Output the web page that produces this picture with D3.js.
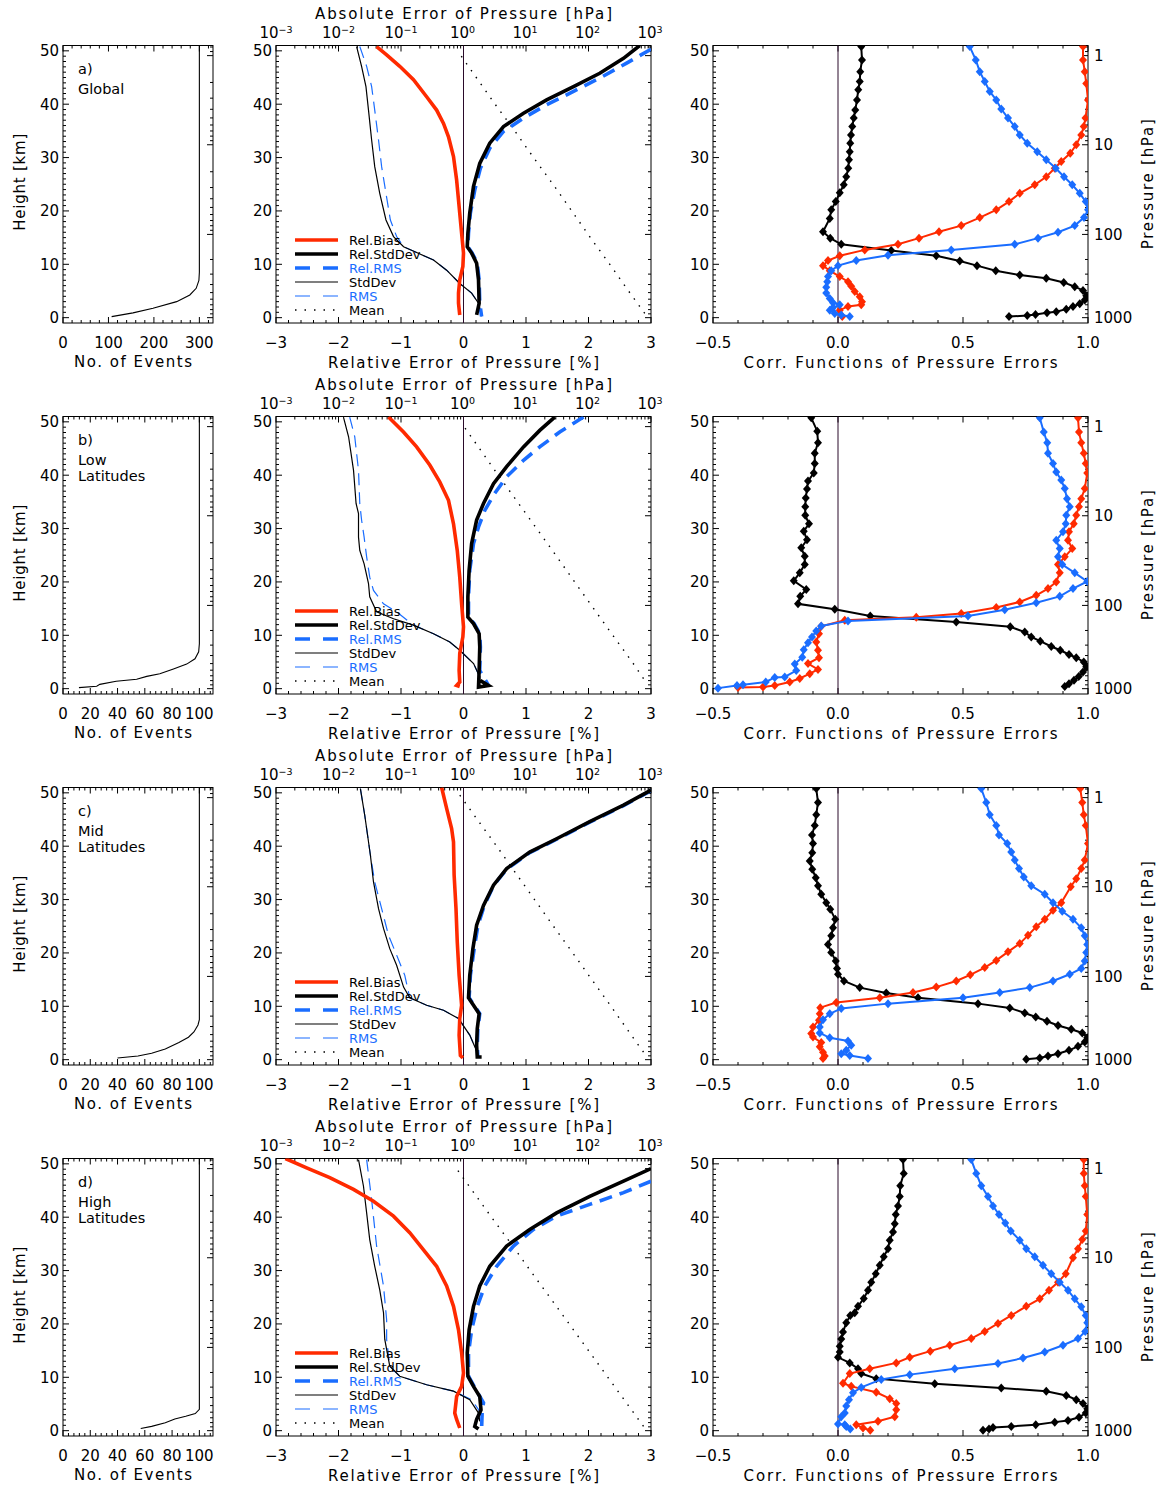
<!DOCTYPE html>
<html>
<head>
<meta charset="utf-8">
<script src="https://cdn.jsdelivr.net/npm/d3@7"></script>
<style>
  body { margin: 0; background: #fff; }
  svg text { font-family: "DejaVu Sans", sans-serif; fill: #000; }
  .frame { fill: none; stroke: #000; stroke-width: 1; }
  .tick line { stroke: #000; stroke-width: 1; }
</style>
</head>
<body>
<svg id="chart" width="1163" height="1485"></svg>
<script>
// ---- panel names and number of events axis ----
const panelNames = [["a)", "Global"], ["b)", "Low", "Latitudes"], ["c)", "Mid", "Latitudes"], ["d)", "High", "Latitudes"]];
const evMax = [330, 110, 110, 110];
const evMajor = [[0, 100, 200, 300], [0, 20, 40, 60, 80, 100], [0, 20, 40, 60, 80, 100], [0, 20, 40, 60, 80, 100]];
const evMinorStep = [20, 4, 4, 4];

// ---- column 1: number of events [count, km] ----
const eventsA = [[107,0.2],[154,0.9],[198,1.75],[250,3.0],[279,4.25],[293,5.5],[299,7.0],[300,8.5],[300,51]];
const eventsB = [[11.7,0.2],[24.7,0.45],[27,0.8],[39,1.4],[54,1.75],[61.4,2.3],[71,2.8],[81,3.7],[90.7,4.6],[96.8,5.6],[99.5,6.9],[100,8.4],[100,51]];
const eventsC = [[40,0.3],[55,0.7],[65,1.2],[75,2.0],[85,3.2],[92,4.2],[96,5.2],[99,6.5],[100,7.5],[100,51]];
const eventsD = [[57,0.4],[65,0.8],[75,1.5],[82,2.2],[90,2.7],[97,3.2],[100,4.0],[100,51]];

// ---- column 2: relative errors [% , km] ----
const relBiasA = [[-1.39,50.8],[-1.23,49.25],[-1.02,47.1],[-0.80,44.6],[-0.59,41.4],[-0.43,38.9],[-0.32,36.4],[-0.24,33.9],[-0.16,30.2],[-0.11,25.8],[-0.07,20.8],[-0.03,15.8],[0.0,12.1],[-0.01,9.6],[-0.06,7.1],[-0.08,4.6],[-0.08,2.7],[-0.06,0.5]];
const relStdA = [[2.82,51],[2.56,48.6],[2.18,45.8],[1.76,43.3],[1.33,40.8],[0.96,38.3],[0.64,35.8],[0.42,32.7],[0.26,28.9],[0.16,24.6],[0.10,19.6],[0.07,15.8],[0.06,13.3],[0.13,12.1],[0.21,10.2],[0.24,7.1],[0.25,2.7],[0.21,0.5]];
const relRmsA = [[3.0,50.3],[2.61,47.7],[2.18,44.9],[1.76,42.4],[1.33,39.9],[0.96,37.4],[0.64,34.9],[0.42,31.75],[0.27,28],[0.18,23.9],[0.11,19.6],[0.08,15.8],[0.07,13.3],[0.14,12.1],[0.22,10.2],[0.25,7.1],[0.26,2.7],[0.29,0.2]];
const relBiasB = [[-1.20,50.9],[-0.96,48.1],[-0.75,45.3],[-0.54,41.9],[-0.38,38.75],[-0.24,35.3],[-0.16,30.9],[-0.10,25.9],[-0.06,20.9],[-0.03,15.9],[0.0,11.6],[-0.01,9.7],[-0.06,6.6],[-0.07,3.4],[-0.06,1.25],[-0.11,0.6],[-0.06,0.4]];
const relStdB = [[1.46,50.9],[1.22,48.4],[0.96,45.3],[0.69,41.6],[0.48,38.4],[0.32,34.7],[0.21,31.6],[0.13,27.2],[0.09,22.2],[0.07,17.2],[0.07,13.4],[0.16,12.2],[0.25,10.3],[0.26,7.8],[0.25,3.4],[0.24,0.3],[0.40,0.6],[0.27,1.5]];
const relRmsB = [[1.92,50.9],[1.54,48.1],[1.22,45.3],[0.96,42.8],[0.69,39.7],[0.50,36.6],[0.34,33.4],[0.24,30.3],[0.16,27.2],[0.10,22.2],[0.08,17.2],[0.08,13.4],[0.17,12.2],[0.26,10.3],[0.27,7.8],[0.26,3.4],[0.40,0.6]];
const relBiasC = [[-0.35,51],[-0.27,47.1],[-0.19,43.3],[-0.16,40.8],[-0.15,34.6],[-0.12,28.3],[-0.10,22.1],[-0.07,15.8],[-0.03,10.2],[-0.06,7.7],[-0.07,4.6],[-0.05,0.8],[-0.01,0.3]];
const relStdC = [[3.0,50.5],[2.56,47.7],[2.02,44.6],[1.49,41.4],[1.06,38.9],[0.69,35.8],[0.48,32.7],[0.32,28.9],[0.21,25.2],[0.15,20.8],[0.10,15.8],[0.08,11.6],[0.16,10.2],[0.25,8.6],[0.22,5.8],[0.21,2.7],[0.22,0.5],[0.29,0.5]];
const relRmsC = [[3.0,50.4],[2.56,47.6],[2.02,44.5],[1.49,41.3],[1.06,38.8],[0.69,35.7],[0.48,32.6],[0.33,28.8],[0.23,25.1],[0.17,20.7],[0.11,15.8],[0.09,11.6],[0.17,10.2],[0.26,8.6],[0.23,5.8],[0.22,2.7],[0.23,0.5]];
const relBiasD = [[-2.85,51],[-2.51,49.25],[-2.14,47.4],[-1.76,45.2],[-1.44,43],[-1.12,40.2],[-0.86,37.1],[-0.64,33.9],[-0.43,30.8],[-0.27,27.1],[-0.16,23.3],[-0.08,18.9],[-0.03,14.6],[0.0,10.8],[-0.03,8.3],[-0.11,6.4],[-0.14,3.3],[-0.11,2.1],[-0.06,0.5]];
const relStdD = [[3.0,49.1],[2.56,46.75],[2.02,43.9],[1.49,40.8],[1.06,37.7],[0.69,34.6],[0.42,30.8],[0.26,27.1],[0.16,23.3],[0.09,18.9],[0.06,14.6],[0.07,10.2],[0.16,8.3],[0.26,6.4],[0.28,3.9],[0.21,2.1],[0.18,0.8],[0.24,0.3]];
const relRmsD = [[3.0,46.75],[2.56,44.6],[2.02,42.4],[1.49,40.2],[1.12,37.7],[0.80,34.6],[0.53,30.8],[0.34,27.1],[0.22,23.3],[0.13,18.9],[0.08,14.6],[0.08,10.2],[0.17,8.3],[0.32,5.2],[0.30,3.9],[0.29,0.5]];

// ---- column 2: absolute errors and mean pressure [hPa, km] (top log axis) ----
const stdA = [[0.0195,50.8],[0.0234,47.1],[0.0275,43.3],[0.0302,38.9],[0.0339,33.3],[0.038,28.3],[0.0457,23.3],[0.0575,18.3],[0.0759,15.2],[0.11,13.3],[0.178,12.2],[0.331,10.8],[0.537,8.9],[0.871,6.4],[1.35,4.6],[1.74,2.7],[1.95,0.3]];
const rmsA = [[0.0219,50.8],[0.0282,47.1],[0.0339,43.3],[0.038,38.9],[0.0437,33.3],[0.049,28.3],[0.0575,23.3],[0.0676,18.3],[0.0851,15.2],[0.11,13.3],[0.178,12.2],[0.331,10.8],[0.537,8.9],[0.871,6.4],[1.35,4.6],[1.74,2.7],[1.95,0.3]];
const meanA = [[794,0.8],[437,5],[219,10],[107,15],[54,20],[27,25],[13.2,30],[6.6,35],[3.2,40],[1.6,45],[0.85,49.6]];
const stdB = [[0.012,50.9],[0.0145,47.2],[0.0174,40.9],[0.0191,34.7],[0.0209,32.8],[0.0209,28.4],[0.0219,25.9],[0.0257,23.4],[0.0302,19.7],[0.0316,17.2],[0.0407,14.4],[0.0759,13.1],[0.158,11.9],[0.331,10.3],[0.603,8.75],[0.871,7.2],[1.45,4.7],[1.82,2.2],[1.82,0.3]];
const rmsB = [[0.0151,50.9],[0.0182,47.2],[0.0209,40.9],[0.0219,34.7],[0.0234,31.6],[0.0257,28.4],[0.0282,24.7],[0.0316,20.9],[0.0363,18.4],[0.0525,15.9],[0.0851,14.4],[0.158,11.9],[0.331,10.3],[0.603,8.75],[0.871,7.2],[1.45,4.7],[1.82,2.2],[1.82,0.3]];
const meanB = [[759,1.9],[500,5],[245,10],[121,15],[60,20],[30,25],[14.8,30],[7.3,35],[3.6,40],[1.8,45],[1.02,49.1]];
const stdC = [[0.0224,50.8],[0.0263,45.8],[0.0324,38.3],[0.0363,33.3],[0.0437,28.3],[0.0525,24.6],[0.0661,20.8],[0.0851,17.7],[0.11,13.6],[0.138,11.6],[0.257,10.2],[0.479,9.25],[0.832,7.7],[1.26,4.6],[1.74,0.8]];
const rmsC = [[0.0224,50.8],[0.0263,45.8],[0.0324,38.3],[0.038,33.3],[0.049,28.3],[0.0631,23.3],[0.0851,19.6],[0.115,15.8],[0.138,11.6],[0.257,10.2],[0.479,9.25],[0.832,7.7],[1.26,4.6],[1.74,0.8]];
const meanC = [[759,1.4],[457,5],[229,10],[113,15],[56,20],[27.5,25],[13.7,30],[6.8,35],[3.4,40],[1.66,45],[0.87,49.6]];
const stdD = [[0.0209,50.8],[0.0251,45.8],[0.0282,40.8],[0.0316,35.8],[0.038,30.8],[0.0457,26.4],[0.0525,22.1],[0.055,17.1],[0.0661,12.1],[0.0955,10.2],[0.257,8.6],[0.692,7.4],[1.26,5.8],[1.74,3.3],[1.82,1.75]];
const rmsD = [[0.0282,50.8],[0.0339,43.3],[0.0407,34.6],[0.0525,27.1],[0.0589,20.8],[0.0589,17.1],[0.0661,12.1],[0.0955,10.2],[0.257,8.6],[0.692,7.4],[1.35,5.8],[1.9,3.3],[1.95,1.75]];
const meanD = [[759,0.8],[417,5],[204,10],[100,15],[49,20],[24,25],[11.7,30],[5.8,35],[2.8,40],[1.38,45],[0.72,49.6]];

// ---- column 3: correlation functions [corr, km] ----
const corrBlackA = [[0.093,50.8],[0.096,48.3],[0.089,46.1],[0.087,44.25],[0.081,42.7],[0.076,40.8],[0.069,38.9],[0.063,37.4],[0.057,35.8],[0.052,34.25],[0.049,32.7],[0.047,31.1],[0.044,29.6],[0.041,28],[0.033,26.4],[0.023,24.9],[0.007,23.4],[-0.009,21.75],[-0.027,20.2],[-0.033,18.6],[-0.06,16.1],[-0.031,14.9],[0.013,13.75],[0.213,12.6],[0.393,11.6],[0.487,10.6],[0.556,9.75],[0.631,8.8],[0.727,8],[0.833,7.4],[0.903,6.6],[0.947,5.8],[0.98,5.1],[0.993,4.1],[0.987,3.3],[0.967,2.6],[0.94,2.1],[0.913,1.6],[0.873,1.1],[0.836,0.9],[0.79,0.6],[0.757,0.4],[0.684,0.2]];
const corrRedA = [[0.98,50.8],[0.98,48.3],[0.987,46.1],[0.993,43.9],[1.0,40.8],[0.99,37.4],[0.983,35.8],[0.973,34.25],[0.953,32.4],[0.929,30.8],[0.893,29.25],[0.867,28],[0.833,26.4],[0.787,24.9],[0.727,23.3],[0.684,21.75],[0.633,20.2],[0.567,18.75],[0.493,17.25],[0.404,16.1],[0.324,14.9],[0.24,13.75],[0.107,12.7],[0.007,11.6],[-0.04,10.7],[-0.06,9.75],[-0.033,8.8],[0.007,7.7],[0.04,6.75],[0.053,5.9],[0.067,4.9],[0.087,3.9],[0.096,3.0],[0.093,2.4],[0.04,2.1],[0.007,1.4],[0.017,0.2]];
const corrBlueA = [[0.527,50.8],[0.551,48.3],[0.567,46.1],[0.587,44.25],[0.607,42.4],[0.633,40.8],[0.653,39.1],[0.68,37.4],[0.707,35.8],[0.727,34.25],[0.757,32.7],[0.797,31.1],[0.833,29.6],[0.871,28],[0.904,26.4],[0.937,24.9],[0.967,23.3],[0.991,21.75],[1.0,20.2],[0.984,18.75],[0.947,17.25],[0.88,16],[0.8,14.9],[0.707,13.75],[0.453,12.7],[0.2,11.7],[0.073,10.7],[0.0,9.75],[-0.027,8.8],[-0.04,7.7],[-0.043,6.75],[-0.047,5.7],[-0.047,4.6],[-0.033,3.6],[-0.02,2.8],[0.007,2.4],[-0.02,1.9],[-0.033,1.4],[-0.013,0.8],[0.013,0.5],[0.047,0.2]];
const corrBlackB = [[-0.107,50.75],[-0.083,48.25],[-0.08,46.1],[-0.093,44.1],[-0.093,42.2],[-0.097,40.4],[-0.12,38.9],[-0.124,37.4],[-0.129,35.75],[-0.131,34.1],[-0.131,32.5],[-0.116,30.9],[-0.137,29.5],[-0.124,27.9],[-0.147,26.4],[-0.133,24.8],[-0.133,23.25],[-0.153,21.7],[-0.177,20.2],[-0.127,18.6],[-0.151,17.3],[-0.16,15.9],[-0.013,14.9],[0.129,13.6],[0.473,12.5],[0.689,11.6],[0.747,10.6],[0.773,9.7],[0.809,8.9],[0.853,7.9],[0.889,7.2],[0.924,6.4],[0.953,5.8],[0.983,5.0],[0.993,4.1],[0.98,3.1],[0.963,2.3],[0.944,1.6],[0.924,0.9],[0.907,0.4]];
const corrRedB = [[0.96,50.75],[0.964,48.1],[0.973,46.1],[0.983,44.1],[0.991,42.2],[0.997,40.4],[0.987,37.5],[0.973,35.6],[0.964,34.1],[0.953,32.5],[0.943,30.9],[0.924,29.4],[0.92,27.8],[0.937,26.25],[0.907,24.7],[0.88,23.25],[0.887,21.7],[0.873,20],[0.84,18.75],[0.793,17.5],[0.727,16.25],[0.633,15.2],[0.493,14.1],[0.313,13.4],[0.027,12.8],[-0.067,11.7],[-0.076,10.3],[-0.087,8.75],[-0.08,7.2],[-0.076,5.8],[-0.12,4.7],[-0.08,3.6],[-0.113,2.8],[-0.153,1.9],[-0.193,1.25],[-0.253,0.6],[-0.3,0.3],[-0.4,0.2]];
const corrBlueB = [[0.807,50.75],[0.823,48.1],[0.837,46.1],[0.84,44.1],[0.86,42.2],[0.873,40.6],[0.893,39.1],[0.907,37.5],[0.916,35.6],[0.927,34.1],[0.913,32.5],[0.911,30.9],[0.9,29.4],[0.873,27.8],[0.887,26.25],[0.88,24.7],[0.897,23.25],[0.947,21.7],[0.997,20.1],[0.94,18.75],[0.887,17.3],[0.793,16.1],[0.667,14.8],[0.52,13.6],[0.04,12.7],[-0.067,11.75],[-0.087,10.8],[-0.104,9.7],[-0.12,8.6],[-0.137,7.3],[-0.143,5.9],[-0.173,4.6],[-0.167,3.4],[-0.213,2.2],[-0.253,2.1],[-0.289,1.25],[-0.38,0.75],[-0.404,0.6],[-0.48,0.1]];
const corrBlackC = [[-0.087,50.8],[-0.08,48.2],[-0.087,45.9],[-0.093,43.9],[-0.104,42.1],[-0.1,40.5],[-0.103,38.75],[-0.113,37.25],[-0.103,35.7],[-0.089,34.1],[-0.08,32.6],[-0.067,31],[-0.047,29.4],[-0.031,28.2],[-0.011,26.3],[-0.02,24.7],[-0.027,23.2],[-0.04,21.6],[-0.027,20.1],[-0.009,18.5],[-0.004,17.1],[0.0,16],[0.024,14.75],[0.087,13.5],[0.193,12.5],[0.32,11.6],[0.56,10.5],[0.687,9.7],[0.747,8.75],[0.791,8],[0.836,7.2],[0.88,6.4],[0.933,5.7],[0.977,5.0],[0.997,4.1],[0.987,3.3],[0.96,2.5],[0.924,1.75],[0.88,1.1],[0.84,0.7],[0.807,0.3],[0.753,0.1]];
const corrRedC = [[0.969,50.8],[0.977,48.2],[0.983,45.9],[0.991,43.9],[1.0,40.5],[0.987,37.4],[0.973,35.8],[0.953,33.9],[0.931,32.4],[0.893,29.4],[0.86,28],[0.827,26.3],[0.793,24.9],[0.76,23.3],[0.727,21.75],[0.68,20.2],[0.633,18.6],[0.587,17.25],[0.529,15.9],[0.473,14.75],[0.393,13.6],[0.3,12.6],[0.167,11.6],[-0.007,10.7],[-0.071,9.75],[-0.073,8.6],[-0.076,7.4],[-0.1,6.1],[-0.107,4.9],[-0.1,4.25],[-0.067,3.2],[-0.073,2.4],[-0.06,1.4],[-0.053,0.7],[-0.06,0.2]];
const corrBlueC = [[0.573,50.8],[0.593,48.2],[0.607,45.9],[0.633,43.9],[0.644,42.1],[0.677,40.5],[0.693,38.9],[0.707,37.4],[0.724,35.8],[0.743,34.25],[0.773,32.6],[0.827,31],[0.86,29.4],[0.897,27.8],[0.94,26.3],[0.973,24.7],[0.987,23.2],[0.997,21.6],[0.993,20.1],[0.987,18.5],[0.973,17.1],[0.927,16],[0.86,14.75],[0.767,13.5],[0.647,12.6],[0.5,11.6],[0.2,10.5],[0.013,9.6],[-0.033,8.6],[-0.06,7.5],[-0.073,6.1],[-0.073,5.0],[-0.033,4.1],[0.04,3.5],[0.053,2.7],[0.033,1.75],[0.013,1.1],[0.047,0.8],[0.12,0.2]];
const corrBlackD = [[0.26,50.8],[0.263,48.2],[0.249,45.9],[0.247,43.9],[0.24,42.1],[0.231,40.5],[0.227,38.75],[0.22,37.25],[0.207,35.7],[0.2,34.1],[0.183,32.6],[0.167,31],[0.151,29.4],[0.133,27.8],[0.12,26.3],[0.103,24.75],[0.08,23.3],[0.067,22.1],[0.049,21.6],[0.033,20.2],[0.02,18.5],[0.013,17.2],[0.007,15.8],[0.007,14.75],[0.0,13.75],[0.047,12.7],[0.08,11.6],[0.093,10.7],[0.153,9.75],[0.387,8.8],[0.653,8],[0.833,7.4],[0.913,6.6],[0.953,5.8],[0.98,5.1],[0.997,4.1],[0.991,3.3],[0.964,2.5],[0.92,1.9],[0.867,1.6],[0.791,1.1],[0.693,0.8],[0.62,0.6],[0.604,0.3],[0.58,0.1]];
const corrRedD = [[0.983,50.8],[0.983,48.2],[0.987,45.9],[0.991,43.9],[0.997,40.5],[0.991,37.4],[0.977,35.8],[0.96,34.1],[0.94,32.4],[0.911,29.4],[0.88,27.8],[0.844,26.3],[0.807,24.7],[0.753,23.3],[0.693,21.6],[0.64,20.1],[0.587,18.6],[0.533,17.25],[0.447,16],[0.369,14.9],[0.287,13.75],[0.233,12.7],[0.127,11.6],[0.047,10.7],[0.02,8.9],[0.053,8.3],[0.153,7.2],[0.207,6],[0.233,5.1],[0.233,3.9],[0.227,2.6],[0.16,1.75],[0.073,1.1],[0.1,0.5],[0.129,0.1]];
const corrBlueD = [[0.533,50.8],[0.553,48.2],[0.573,45.9],[0.6,43.9],[0.62,42.1],[0.644,40.5],[0.669,38.9],[0.691,37.4],[0.727,35.7],[0.753,34.1],[0.787,32.6],[0.82,31],[0.853,29.4],[0.887,27.8],[0.92,26.3],[0.947,24.7],[0.973,23.2],[0.991,21.6],[0.997,20.2],[0.989,18.6],[0.96,17.25],[0.9,16],[0.827,14.75],[0.74,13.6],[0.64,12.6],[0.467,11.6],[0.287,10.5],[0.173,9.6],[0.093,8.1],[0.06,7.1],[0.044,5.8],[0.033,4.6],[0.027,3.3],[0.013,2.6],[0.0,1.25],[0.027,1.1],[0.033,0.8],[0.049,0.3]];

// ---- axes labels ----
const heightMajor = [0, 10, 20, 30, 40, 50];
const relMajor = [-3, -2, -1, 0, 1, 2, 3];
const absExp = [-3, -2, -1, 0, 1, 2, 3];
const corrMajor = [-0.5, 0.0, 0.5, 1.0];
const pressMajor = [1, 10, 100, 1000];
const legendItems = ["Rel.Bias", "Rel.StdDev", "Rel.RMS", "StdDev", "RMS", "Mean"];

const RED = "#ff2a00", BLUE = "#1a6dff", DARK = "#2a0a2a";

const rows = [
  {ev: eventsA, bias: relBiasA, std: relStdA, rms: relRmsA, aStd: stdA, aRms: rmsA, mean: meanA, cK: corrBlackA, cR: corrRedA, cB: corrBlueA},
  {ev: eventsB, bias: relBiasB, std: relStdB, rms: relRmsB, aStd: stdB, aRms: rmsB, mean: meanB, cK: corrBlackB, cR: corrRedB, cB: corrBlueB},
  {ev: eventsC, bias: relBiasC, std: relStdC, rms: relRmsC, aStd: stdC, aRms: rmsC, mean: meanC, cK: corrBlackC, cR: corrRedC, cB: corrBlueC},
  {ev: eventsD, bias: relBiasD, std: relStdD, rms: relRmsD, aStd: stdD, aRms: rmsD, mean: meanD, cK: corrBlackD, cR: corrRedD, cB: corrBlueD}
];

var svg = d3.select("#chart");
var colL = [63, 276, 713], colR = [213, 651, 1088];
var rowTop = [45.5, 416.5, 787.5, 1158.5], rowH = 277.5;
var MAJ = 6, MIN = 3;

function tickSet(g, side, scale, vals, len, box) {
  vals.forEach(function (v) {
    var p = scale(v);
    if (side === "bottom" || side === "top") { if (p < box.x0 - 0.1 || p > box.x1 + 0.1) return; }
    else { if (p < box.y0 - 0.1 || p > box.y1 + 0.1) return; }
    var l;
    if (side === "bottom") l = [p, box.y1, p, box.y1 - len];
    else if (side === "top") l = [p, box.y0, p, box.y0 + len];
    else if (side === "left") l = [box.x0, p, box.x0 + len, p];
    else l = [box.x1, p, box.x1 - len, p];
    g.append("line").attr("x1", l[0]).attr("y1", l[1]).attr("x2", l[2]).attr("y2", l[3]);
  });
}

function minorsOf(step, lo, hi, majors) {
  var out = [];
  for (var v = lo; v <= hi + 1e-9; v += step) {
    var r = Math.round(v * 1000) / 1000;
    if (!majors.some(function (m) { return Math.abs(m - r) < 1e-6; })) out.push(r);
  }
  return out;
}

var pressMinor = [];
[0.1, 1, 10, 100].forEach(function (dec) { for (var m = 2; m <= 9; m++) pressMinor.push(m * dec); });
var absMinor = [];
[-3, -2, -1, 0, 1, 2].forEach(function (e) { for (var m = 2; m <= 9; m++) absMinor.push(m * Math.pow(10, e)); });

function frameBox(c, top) { return {x0: colL[c], x1: colR[c], y0: top, y1: top + rowH}; }

function drawFrame(g, box, id) {
  g.append("clipPath").attr("id", id).append("rect")
    .attr("x", box.x0).attr("y", box.y0).attr("width", box.x1 - box.x0).attr("height", box.y1 - box.y0);
  g.append("rect").attr("class", "frame")
    .attr("x", box.x0).attr("y", box.y0).attr("width", box.x1 - box.x0).attr("height", box.y1 - box.y0);
}

function heightPressTicks(g, box, y, yP, labelLeft) {
  var t = g.append("g").attr("class", "tick");
  tickSet(t, "left", y, heightMajor, MAJ, box);
  tickSet(t, "left", y, minorsOf(1, 1, 50, heightMajor), MIN, box);
  tickSet(t, "right", yP, pressMajor, MAJ, box);
  tickSet(t, "right", yP, pressMinor, MIN, box);
  if (labelLeft) {
    g.selectAll(null).data(heightMajor).join("text")
      .attr("x", box.x0 - 4).attr("y", function (d) { return y(d) + 5.5; })
      .attr("text-anchor", "end").style("font-size", "15px")
      .text(function (d) { return d; });
  }
}

function fmtMinus(s) { return String(s).replace("-", "\u2212"); }

function diamonds(g, data, x, y, color, clip) {
  g.append("g").attr("clip-path", "url(#" + clip + ")")
    .selectAll("path").data(data).join("path")
    .attr("d", "M0,-4.5L4,0L0,4.5L-4,0Z")
    .attr("transform", function (d) { return "translate(" + x(d[0]) + "," + y(d[1]) + ")"; })
    .attr("fill", color);
}

rows.forEach(function (r, i) {
  var top = rowTop[i], bot = top + rowH;
  var y = d3.scaleLinear().domain([-1, 51]).range([bot, top]);
  var yP = d3.scaleLog().domain([1000, 100, 10, 1]).range([y(0), y(15.6), y(32.4), y(49.1)]);

  // ---------- column 1: events ----------
  var b1 = frameBox(0, top);
  var g1 = svg.append("g");
  var x1 = d3.scaleLinear().domain([0, evMax[i]]).range([b1.x0, b1.x1]);
  drawFrame(g1, b1, "clip1-" + i);
  var t1 = g1.append("g").attr("class", "tick");
  var evMin = minorsOf(evMinorStep[i], 0, evMax[i], evMajor[i]);
  tickSet(t1, "bottom", x1, evMajor[i], MAJ, b1);
  tickSet(t1, "bottom", x1, evMin, MIN, b1);
  tickSet(t1, "top", x1, evMajor[i], MAJ, b1);
  tickSet(t1, "top", x1, evMin, MIN, b1);
  heightPressTicks(g1, b1, y, yP, true);
  g1.append("path").datum(r.ev).attr("clip-path", "url(#clip1-" + i + ")")
    .attr("fill", "none").attr("stroke", "#000").attr("stroke-width", 1.1)
    .attr("d", d3.line().x(function (d) { return x1(d[0]); }).y(function (d) { return y(d[1]); }));
  g1.selectAll(null).data(evMajor[i]).join("text")
    .attr("x", function (d) { return x1(d); }).attr("y", bot + 25)
    .attr("text-anchor", "middle").style("font-size", "15px").text(function (d) { return d; });
  g1.append("text").attr("x", 133).attr("y", bot + 44).attr("text-anchor", "middle")
    .attr("textLength", 118).attr("lengthAdjust", "spacing").style("font-size", "15px").text("No. of Events");
  g1.append("text").attr("transform", "translate(25," + (top + rowH / 2 - 2) + ") rotate(-90)")
    .attr("text-anchor", "middle").attr("textLength", 97).attr("lengthAdjust", "spacing")
    .style("font-size", "15px").text("Height [km]");
  panelNames[i].forEach(function (s, k) {
    g1.append("text").attr("x", 78).attr("y", top + 28 + (k === 0 ? 0 : (k === 1 ? 20 : 36)))
      .style("font-size", "14.5px").text(s);
  });

  // ---------- column 2: errors ----------
  var b2 = frameBox(1, top);
  var g2 = svg.append("g");
  var x2 = d3.scaleLinear().domain([-3, 3]).range([b2.x0, b2.x1]);
  var xL = d3.scaleLog().domain([1e-3, 1e3]).range([b2.x0, b2.x1]);
  drawFrame(g2, b2, "clip2-" + i);
  var t2 = g2.append("g").attr("class", "tick");
  tickSet(t2, "bottom", x2, relMajor, MAJ, b2);
  tickSet(t2, "bottom", x2, minorsOf(0.2, -3, 3, relMajor), MIN, b2);
  tickSet(t2, "top", xL, absExp.map(function (e) { return Math.pow(10, e); }), MAJ, b2);
  tickSet(t2, "top", xL, absMinor, MIN, b2);
  heightPressTicks(g2, b2, y, yP, true);
  g2.append("line").attr("x1", x2(0)).attr("x2", x2(0)).attr("y1", top).attr("y2", bot)
    .attr("stroke", DARK).attr("stroke-width", 1);

  var cg = g2.append("g").attr("clip-path", "url(#clip2-" + i + ")");
  var lineRel = d3.line().x(function (d) { return x2(d[0]); }).y(function (d) { return y(d[1]); });
  var lineAbs = d3.line().x(function (d) { return xL(d[0]); }).y(function (d) { return y(d[1]); });
  cg.append("path").datum(r.mean).attr("d", lineAbs).attr("fill", "none")
    .attr("stroke", "#000").attr("stroke-width", 1.4).attr("stroke-dasharray", "1.5,7");
  cg.append("path").datum(r.aRms).attr("d", lineAbs).attr("fill", "none")
    .attr("stroke", BLUE).attr("stroke-width", 1.2).attr("stroke-dasharray", "12,7");
  cg.append("path").datum(r.aStd).attr("d", lineAbs).attr("fill", "none")
    .attr("stroke", "#000").attr("stroke-width", 1.2);
  cg.append("path").datum(r.rms).attr("d", lineRel).attr("fill", "none")
    .attr("stroke", BLUE).attr("stroke-width", 3.6).attr("stroke-dasharray", "13,8");
  cg.append("path").datum(r.std).attr("d", lineRel).attr("fill", "none")
    .attr("stroke", "#000").attr("stroke-width", 3.6);
  cg.append("path").datum(r.bias).attr("d", lineRel).attr("fill", "none")
    .attr("stroke", RED).attr("stroke-width", 3.6);

  // legend
  var legStyles = [
    {c: RED, w: 3.6, dash: null, tc: "#000"},
    {c: "#000", w: 3.6, dash: null, tc: "#000"},
    {c: BLUE, w: 3.6, dash: "15,13", tc: BLUE},
    {c: "#000", w: 1.2, dash: null, tc: "#000"},
    {c: BLUE, w: 1.2, dash: "15,13", tc: BLUE},
    {c: "#000", w: 1.4, dash: "1.5,8", tc: "#000"}
  ];
  legendItems.forEach(function (name, k) {
    var ly = top + 194.5 + k * 14;
    var s = legStyles[k];
    g2.append("line").attr("x1", b2.x0 + 19).attr("x2", b2.x0 + 62).attr("y1", ly).attr("y2", ly)
      .attr("stroke", s.c).attr("stroke-width", s.w).attr("stroke-dasharray", s.dash);
    g2.append("text").attr("x", b2.x0 + 73).attr("y", ly + 4.5).style("font-size", "13px")
      .style("fill", s.tc).text(name);
  });

  g2.selectAll(null).data(relMajor).join("text")
    .attr("x", function (d) { return x2(d); }).attr("y", bot + 25)
    .attr("text-anchor", "middle").style("font-size", "15px").text(function (d) { return fmtMinus(d); });
  var topLab = g2.selectAll(null).data(absExp).join("text")
    .attr("x", function (d) { return xL(Math.pow(10, d)) + (d < 0 ? 0 : -1); }).attr("y", top - 7.5)
    .attr("text-anchor", "middle").style("font-size", "15px");
  topLab.append("tspan").text("10");
  topLab.append("tspan").attr("dy", -5.5).style("font-size", "9.5px").text(function (d) { return fmtMinus(d); });
  g2.append("text").attr("x", (b2.x0 + b2.x1) / 2).attr("y", top - 26.5).attr("text-anchor", "middle")
    .attr("textLength", 297).attr("lengthAdjust", "spacing").style("font-size", "15px")
    .text("Absolute Error of Pressure [hPa]");
  g2.append("text").attr("x", (b2.x0 + b2.x1) / 2).attr("y", bot + 45).attr("text-anchor", "middle")
    .attr("textLength", 271).attr("lengthAdjust", "spacing").style("font-size", "15px")
    .text("Relative Error of Pressure [%]");

  // ---------- column 3: correlations ----------
  var b3 = frameBox(2, top);
  var g3 = svg.append("g");
  var x3 = d3.scaleLinear().domain([-0.5, 1.0]).range([b3.x0, b3.x1]);
  drawFrame(g3, b3, "clip3-" + i);
  var t3 = g3.append("g").attr("class", "tick");
  var corrMinor = minorsOf(0.1, -0.5, 1.0, corrMajor);
  tickSet(t3, "bottom", x3, corrMajor, MAJ, b3);
  tickSet(t3, "bottom", x3, corrMinor, MIN, b3);
  tickSet(t3, "top", x3, corrMajor, MAJ, b3);
  tickSet(t3, "top", x3, corrMinor, MIN, b3);
  heightPressTicks(g3, b3, y, yP, true);
  g3.append("line").attr("x1", x3(0)).attr("x2", x3(0)).attr("y1", top).attr("y2", bot)
    .attr("stroke", DARK).attr("stroke-width", 1);
  var lineC = d3.line().x(function (d) { return x3(d[0]); }).y(function (d) { return y(d[1]); });
  [[r.cK, "#000"], [r.cR, RED], [r.cB, BLUE]].forEach(function (p) {
    g3.append("path").datum(p[0]).attr("clip-path", "url(#clip3-" + i + ")")
      .attr("d", lineC).attr("fill", "none").attr("stroke", p[1]).attr("stroke-width", 2);
    diamonds(g3, p[0], x3, y, p[1], "clip3-" + i);
  });
  g3.selectAll(null).data(corrMajor).join("text")
    .attr("x", function (d) { return x3(d); }).attr("y", bot + 25)
    .attr("text-anchor", "middle").style("font-size", "15px")
    .text(function (d) { return fmtMinus(d.toFixed(1)); });
  g3.selectAll(null).data(pressMajor).join("text")
    .attr("x", b3.x1 + 6).attr("y", function (d) { return yP(d) + 5.5; })
    .style("font-size", "15px").text(function (d) { return d; });
  g3.append("text").attr("x", (b3.x0 + b3.x1) / 2).attr("y", bot + 45).attr("text-anchor", "middle")
    .attr("textLength", 314).attr("lengthAdjust", "spacing").style("font-size", "15px")
    .text("Corr. Functions of Pressure Errors");
  g3.append("text").attr("transform", "translate(1153," + (top + rowH / 2) + ") rotate(-90)")
    .attr("text-anchor", "middle").attr("textLength", 130).attr("lengthAdjust", "spacing")
    .style("font-size", "15px").text("Pressure [hPa]");
});
</script>
</body>
</html>
